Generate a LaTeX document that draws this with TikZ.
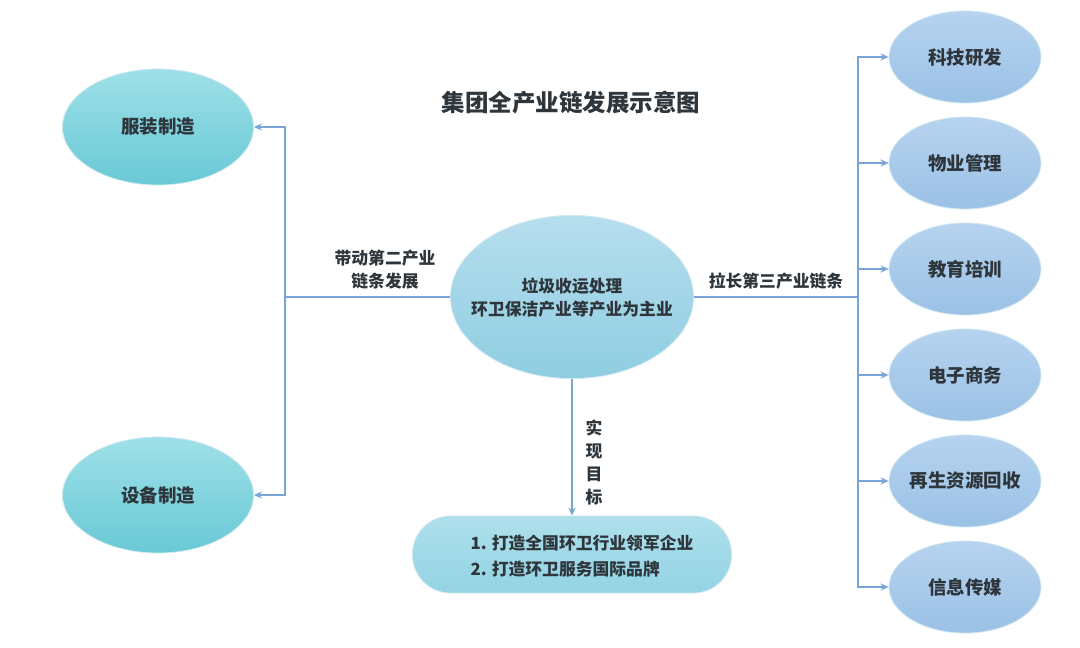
\documentclass[tikz,border=0pt]{standalone}
\usepackage{fontspec}
\setmainfont{Noto Sans CJK SC}
\usetikzlibrary{shapes.geometric,arrows.meta}
\definecolor{linec}{HTML}{7BA4D6}
\definecolor{txt}{HTML}{2E363C}
\definecolor{lelltop}{HTML}{9FE0E8}
\definecolor{lellbot}{HTML}{68C9D5}
\definecolor{relltop}{HTML}{B6D3EF}
\definecolor{rellbot}{HTML}{9BC1E6}
\definecolor{melltop}{HTML}{B6DEEE}
\definecolor{mellbot}{HTML}{8FCDE1}
\definecolor{gtop}{HTML}{AEE0EC}
\definecolor{gbot}{HTML}{93D3E3}
\definecolor{edgec}{HTML}{CFE8F0}
\tikzset{
  conn/.style={draw=linec,line width=2.3pt},
  arr/.style={conn,-{Stealth[length=8pt,width=7pt]}},
  bigtxt/.style={font=\fontsize{18.5}{22}\selectfont\bfseries,text=txt},
  midtxt/.style={font=\fontsize{16.8}{23}\selectfont\bfseries,text=txt},
  leftell/.style={ellipse,draw=edgec,line width=0.8pt,top color=lelltop,bottom color=lellbot,minimum width=191pt,minimum height=116pt,inner sep=0pt},
  rightell/.style={ellipse,draw=edgec,line width=0.8pt,top color=relltop,bottom color=rellbot,minimum width=152pt,minimum height=92pt,inner sep=0pt},
  mainell/.style={ellipse,draw=edgec,line width=0.8pt,top color=melltop,bottom color=mellbot,minimum width=243pt,minimum height=163pt,inner sep=0pt},
  goalbox/.style={rounded corners=38pt,draw=edgec,line width=0.8pt,top color=gtop,bottom color=gbot,minimum width=319pt,minimum height=77pt,inner sep=0pt},
  lbl/.style={align=center,midtxt,inner sep=0pt},
}
\begin{document}
\begin{tikzpicture}[x=1pt,y=-1pt]
\useasboundingbox[fill=white] (0,0) rectangle (1080,648);
\node[inner sep=0pt,font=\fontsize{23.5}{26}\selectfont\bfseries,text=txt] (title) at (571,103) {集团全产业链发展示意图};

\node[mainell] (main) at (572,297) {};
\node[lbl,font=\fontsize{16.8}{23}\selectfont\bfseries] (maintxt) at (572,297.5) {垃圾收运处理\\环卫保洁产业等产业为主业};

\node[leftell,label={[bigtxt]center:服装制造}] (fz) at (158,127) {};
\node[leftell,label={[bigtxt]center:设备制造}] (sb) at (158,495) {};

\node[rightell,label={[bigtxt]center:科技研发}] (r1) at (965,57) {};
\node[rightell,label={[bigtxt]center:物业管理}] (r2) at (965,163) {};
\node[rightell,label={[bigtxt]center:教育培训}] (r3) at (965,269) {};
\node[rightell,label={[bigtxt]center:电子商务}] (r4) at (965,375) {};
\node[rightell,label={[bigtxt]center:再生资源回收}] (r5) at (965,481) {};
\node[rightell,label={[bigtxt]center:信息传媒}] (r6) at (965,587) {};

\node[goalbox] (goal) at (572,554.5) {};
\node[lbl,align=left,font=\fontsize{16.8}{26}\selectfont\bfseries] (goaltxt) at (582,556.5) {1. 打造全国环卫行业领军企业\\2. 打造环卫服务国际品牌};

\coordinate (lj) at (285,297);
\coordinate (rj) at (858,297);

\draw[conn] (main.west) -- (lj);
\draw[arr] (lj) |- (fz.east);
\draw[arr] (lj) |- (sb.east);

\draw[conn] (main.east) -- (rj);
\foreach \n in {r1,r2,r3,r4,r5,r6} \draw[arr] (rj) |- (\n.west);

\draw[arr] (main.south) -- (goal.north);

\node[lbl] (l1) at (385,270) {带动第二产业\\链条发展};
\node[lbl] (l2) at (776,281) {拉长第三产业链条};
\node[lbl,font=\fontsize{16.8}{23}\selectfont\bfseries] (l3) at (594,462) {实\\现\\目\\标};
\end{tikzpicture}
\end{document}
